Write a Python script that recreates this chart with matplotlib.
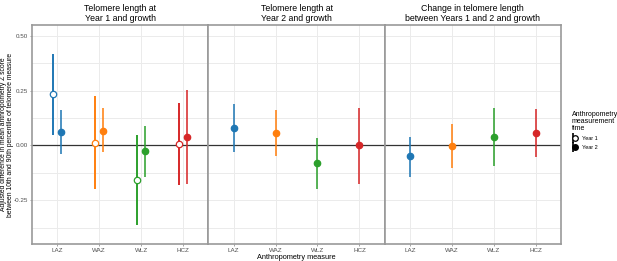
import numpy as np
import matplotlib
matplotlib.use("Agg")
import matplotlib.pyplot as plt
from matplotlib.lines import Line2D
from matplotlib.legend_handler import HandlerTuple

plt.rcParams["font.family"] = ["Liberation Sans", "DejaVu Sans"]

# data
measures = ["LAZ", "WAZ", "WLZ", "HCZ"]
colors = ["#1f77b4", "#ff7f0e", "#2ca02c", "#d62728"]
titles = ["Telomere length at\nYear 1 and growth",
          "Telomere length at\nYear 2 and growth",
          "Change in telomere length\nbetween Years 1 and 2 and growth"]

# panel 1: both measurement times
p1_y1_est = [0.233, 0.010, -0.160, 0.006]
p1_y1_lo = [0.050, -0.200, -0.365, -0.180]
p1_y1_hi = [0.418, 0.225, 0.050, 0.195]
p1_y2_est = [0.062, 0.068, -0.026, 0.040]
p1_y2_lo = [-0.038, -0.032, -0.142, -0.176]
p1_y2_hi = [0.164, 0.170, 0.090, 0.255]

# panel 2: Year 2 only
p2_est = [0.080, 0.056, -0.080, 0.000]
p2_lo = [-0.030, -0.050, -0.200, -0.177]
p2_hi = [0.190, 0.160, 0.035, 0.170]

# panel 3: Year 2 only
p3_est = [-0.050, -0.003, 0.040, 0.057]
p3_lo = [-0.145, -0.105, -0.093, -0.055]
p3_hi = [0.040, 0.097, 0.170, 0.165]

W, H = 617, 261
fig = plt.figure(figsize=(W / 100, H / 100), dpi=100)
left, right, top, bot = 32, 561, 25, 244
pw = (right - left) / 3
axes = [fig.add_axes([(left + i * pw) / W, 1 - bot / H, pw / W, (bot - top) / H])
        for i in range(3)]

x = np.arange(len(measures))
lw = 1.4
ms = 4.6


def pointrange(ax, xs, est, lo, hi, filled):
    for xi, e, l, h, c in zip(xs, est, lo, hi, colors):
        ax.vlines(xi, l, h, color=c, lw=lw, alpha=0.8 if filled else 1.0, zorder=3)
        ax.plot(xi, e, "o", ms=ms, mec=c, mew=0.9,
                mfc=c if filled else "white", zorder=4)


pointrange(axes[0], x - 0.1, p1_y1_est, p1_y1_lo, p1_y1_hi, False)
pointrange(axes[0], x + 0.1, p1_y2_est, p1_y2_lo, p1_y2_hi, True)
pointrange(axes[1], x, p2_est, p2_lo, p2_hi, True)
pointrange(axes[2], x, p3_est, p3_lo, p3_hi, True)

for i, ax in enumerate(axes):
    ax.set_xlim(-0.6, 3.6)
    ax.set_ylim(-0.45, 0.55)
    ax.axhline(0, color="#333333", lw=0.9, zorder=2)
    ax.set_yticks([-0.25, 0, 0.25, 0.5])
    ax.set_yticks([-0.375, -0.125, 0.125, 0.375], minor=True)
    ax.set_xticks(x)
    ax.set_xticklabels(measures)
    ax.grid(True, which="both", color="#ebebeb", lw=0.7, zorder=0)
    ax.set_axisbelow(True)
    for s in ax.spines.values():
        s.set_color("#999999")
        s.set_linewidth(1.2)
    ax.tick_params(which="major", length=1.5, width=0.5, color="#7f7f7f",
                   labelsize=4.5, labelcolor="#4d4d4d", pad=1.2)
    ax.tick_params(which="minor", length=0)
    ax.set_title(titles[i], fontsize=6.3, pad=3, linespacing=1.05)
    if i == 0:
        ax.set_yticklabels(["-0.25", "0.00", "0.25", "0.50"])
    else:
        ax.tick_params(axis="y", which="both", left=False, labelleft=False)

fig.text(7 / W, 1 - (top + bot) / 2 / H,
         "Adjusted difference in mean anthropometry Z score\n"
         "between 10th and 90th percentile of telomere measure",
         rotation=90, ha="center", va="center", fontsize=4.9, linespacing=1.0)
fig.text((left + right) / 2 / W, 1 - 257.5 / H, "Anthropometry measure",
         ha="center", va="center", fontsize=5.3)

# legend
h1 = (Line2D([], [], color="black", marker="|", ms=7, mew=1.2, ls="none"),
      Line2D([], [], color="black", marker="o", ms=4, mfc="white", mew=0.9, ls="none"))
h2 = (Line2D([], [], color="black", marker="|", ms=7, mew=1.2, ls="none"),
      Line2D([], [], color="black", marker="o", ms=4, ls="none"))
leg = fig.legend([h1, h2], ["Year 1", "Year 2"],
                 handler_map={tuple: HandlerTuple(ndivide=None, pad=0)},
                 title="Anthropometry\nmeasurement\ntime",
                 loc="upper left", bbox_to_anchor=(572 / W, 1 - 111 / H),
                 frameon=False, fontsize=4.0, title_fontsize=5.0,
                 handlelength=0.8, handletextpad=1.0, labelspacing=0.7,
                 borderpad=0, borderaxespad=0)
leg._legend_box.align = "left"
leg.get_title().set_linespacing(1.0)

fig.savefig("out.png", dpi=100)
